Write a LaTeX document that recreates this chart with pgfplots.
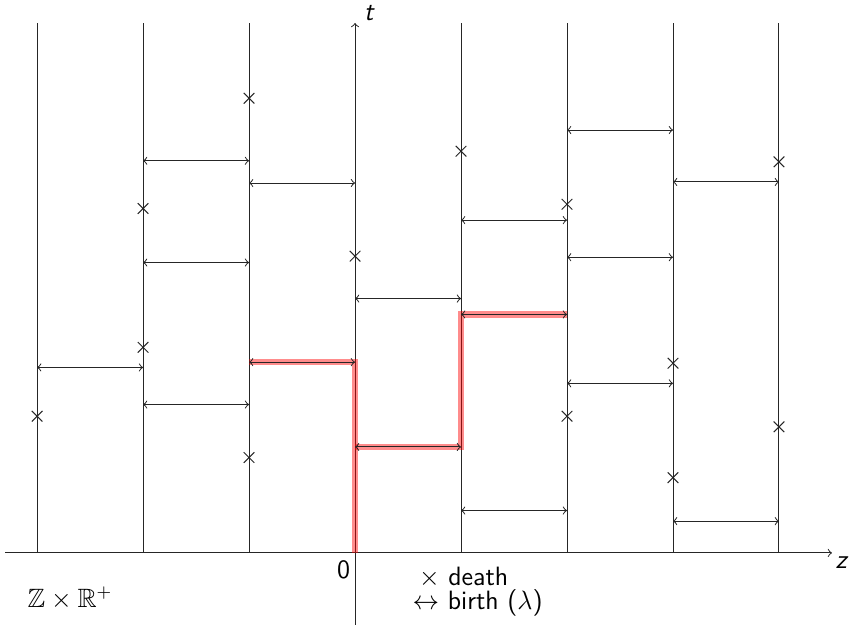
\documentclass[border=0pt]{standalone}
\usepackage{amssymb}
\usepackage{pgfplots}
\pgfplotsset{compat=1.18}
\begin{document}
\begin{tikzpicture}
\begin{axis}[x=48pt, y=48pt, axis lines=none, xmin=-3.35, xmax=4.67, ymin=-0.698, ymax=5.217, clip=false,
  every axis plot/.append style={line width=0.45pt}]
\path (axis cs:-3.35,-0.698) rectangle (axis cs:4.67,5.217);
% vertical lines
\pgfplotsinvokeforeach{-3,-2,-1,1,2,3,4}{\addplot[black!85, no marks] coordinates {(#1,0) (#1,5)};}
% axes
\addplot[black!85, no marks, ->] coordinates {(-3.3,0) (4.5,0)};
\addplot[black!85, no marks, ->] coordinates {(0,-0.68) (0,5.0)};
% red path
\addplot[red, opacity=0.45, line width=3pt, no marks] coordinates {(-1,1.8) (0,1.8) (0,0)};
\addplot[red, opacity=0.45, line width=3pt, no marks] coordinates {(0,1.0) (1,1.0) (1,2.25) (2,2.25)};
% births
\addplot[black!85, no marks, <->] coordinates {(-3,1.75) (-2,1.75)};
\addplot[black!85, no marks, <->] coordinates {(-2,3.70) (-1,3.70)};
\addplot[black!85, no marks, <->] coordinates {(-2,2.74) (-1,2.74)};
\addplot[black!85, no marks, <->] coordinates {(-2,1.40) (-1,1.40)};
\addplot[black!85, no marks, <->] coordinates {(-1,3.49) (0,3.49)};
\addplot[black!85, no marks, <->] coordinates {(-1,1.80) (0,1.80)};
\addplot[black!85, no marks, <->] coordinates {(0,2.40) (1,2.40)};
\addplot[black!85, no marks, <->] coordinates {(0,1.00) (1,1.00)};
\addplot[black!85, no marks, <->] coordinates {(1,3.14) (2,3.14)};
\addplot[black!85, no marks, <->] coordinates {(1,2.25) (2,2.25)};
\addplot[black!85, no marks, <->] coordinates {(1,0.40) (2,0.40)};
\addplot[black!85, no marks, <->] coordinates {(2,3.99) (3,3.99)};
\addplot[black!85, no marks, <->] coordinates {(2,2.79) (3,2.79)};
\addplot[black!85, no marks, <->] coordinates {(2,1.60) (3,1.60)};
\addplot[black!85, no marks, <->] coordinates {(3,3.50) (4,3.50)};
\addplot[black!85, no marks, <->] coordinates {(3,0.30) (4,0.30)};
% deaths
\addplot[black!85, only marks, mark=x, mark size=3.4pt] coordinates {
(-3,1.29) (-2,3.25) (-2,1.94) (-1,4.29) (-1,0.90) (0,2.80) (1,3.79)
(2,3.29) (2,1.29) (3,1.79) (3,0.71) (4,3.69) (4,1.19)};
% labels
\node[anchor=south west, inner sep=1pt, font=\large] at (axis cs:0.06,5.0) {\textsf{\itshape t}};
\node[anchor=north west, inner sep=0pt, font=\large] at (axis cs:4.53,-0.03) {\textsf{\itshape z}};
\node[anchor=north east, inner sep=2pt, font=\large] at (axis cs:0,-0.03) {\textsf{0}};
\node[font=\large] at (axis cs:-2.69,-0.43) {$\mathbb{Z}\times\mathbb{R}^{+}$};
\node[anchor=west, inner sep=0pt, font=\large] at (axis cs:0.6,-0.23) {$\times$ \textsf{death}};
\node[anchor=west, inner sep=0pt, font=\large] at (axis cs:0.54,-0.47) {$\leftrightarrow$ \textsf{birth (}$\lambda$\textsf{)}};
\end{axis}
\end{tikzpicture}
\end{document}
